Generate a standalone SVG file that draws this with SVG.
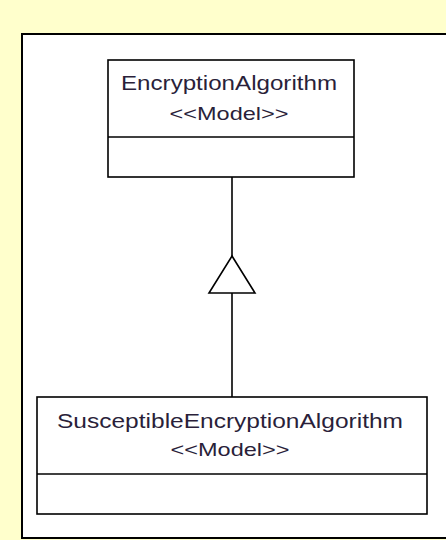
<svg xmlns="http://www.w3.org/2000/svg" width="446" height="540" viewBox="0 0 446 540">
  <style>
    .frame { fill: #ffffff; stroke: #000000; stroke-width: 2; }
    .cls { fill: #ffffff; stroke: #000000; stroke-width: 1.6; }
    .div { stroke: #000000; stroke-width: 1.6; }
    .name { font-family: "Liberation Sans", Arial, sans-serif; font-size: 21px; fill: #2a1f3a; }
    .stereo { font-family: "Liberation Sans", Arial, sans-serif; font-size: 19px; fill: #2a1f3a; }
    .conn { stroke: #000000; stroke-width: 1.6; fill: none; }
    .head { stroke: #000000; stroke-width: 1.6; fill: #ffffff; stroke-linejoin: miter; }
  </style>
  <rect width="446" height="540" fill="#ffffcc"/>
  <rect class="frame" x="22" y="34" width="440" height="504"/>

  <g id="connectors">
    <line class="conn" x1="232" y1="177" x2="232" y2="256"/>
    <line class="conn" x1="232" y1="293" x2="232" y2="397"/>
    <polygon class="head" points="232,256 255,293 209,293"/>
  </g>

  <g id="EncryptionAlgorithm">
    <rect class="cls" x="108" y="60" width="246" height="117"/>
    <line class="div" x1="108" y1="137" x2="354" y2="137"/>
    <text class="name" x="229" y="90" text-anchor="middle" textLength="216" lengthAdjust="spacingAndGlyphs">EncryptionAlgorithm</text>
    <text class="stereo" x="229" y="120" text-anchor="middle" textLength="119" lengthAdjust="spacingAndGlyphs">&lt;&lt;Model&gt;&gt;</text>
  </g>

  <g id="SusceptibleEncryptionAlgorithm">
    <rect class="cls" x="37" y="397" width="390" height="117"/>
    <line class="div" x1="37" y1="474" x2="427" y2="474"/>
    <text class="name" x="230" y="428" text-anchor="middle" textLength="346" lengthAdjust="spacingAndGlyphs">SusceptibleEncryptionAlgorithm</text>
    <text class="stereo" x="230" y="456" text-anchor="middle" textLength="119" lengthAdjust="spacingAndGlyphs">&lt;&lt;Model&gt;&gt;</text>
  </g>
</svg>
